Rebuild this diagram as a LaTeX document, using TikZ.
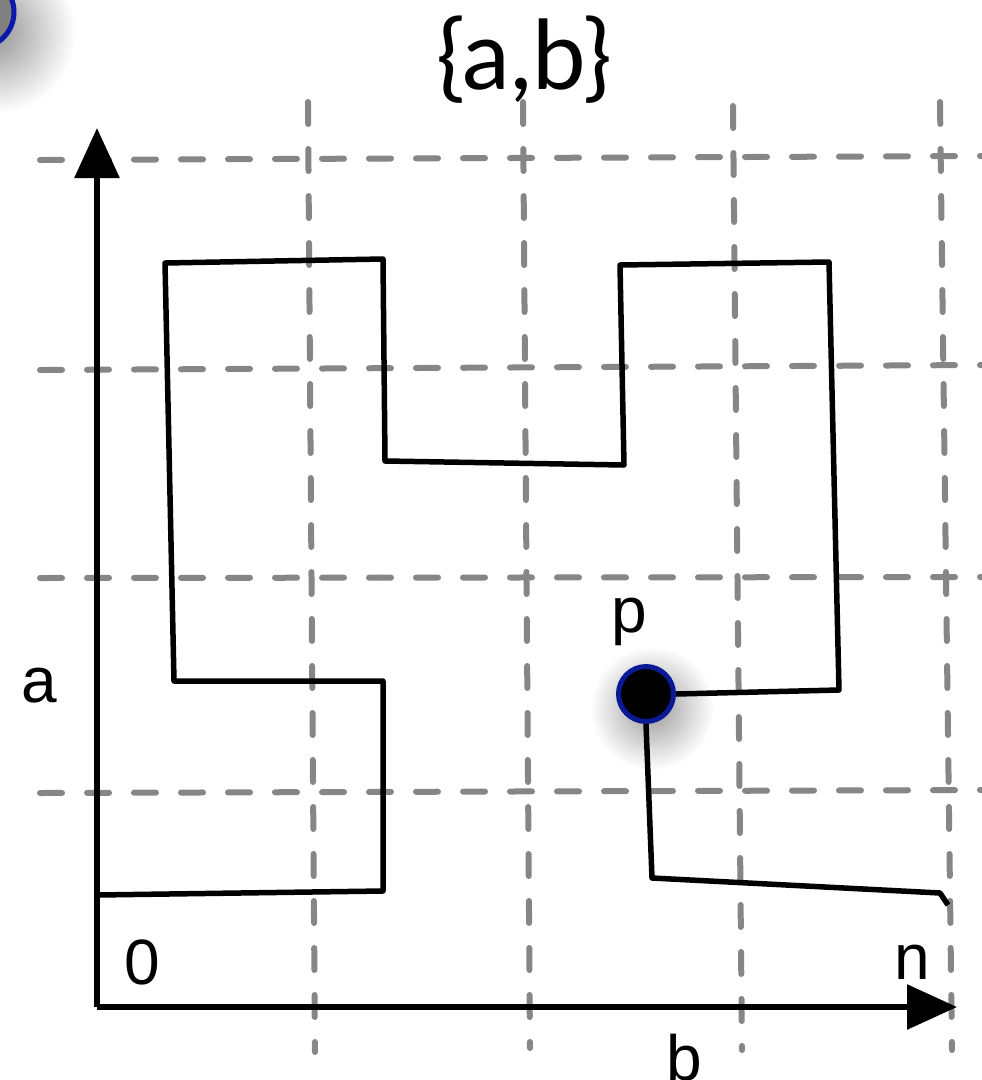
\documentclass[tikz,border=0pt]{standalone}
\usepackage{fontspec}
\setmainfont{Liberation Sans}
\newfontfamily\titlefont{Lato}
\usetikzlibrary{arrows.meta}
\tikzset{
  grid/.style={draw=gray!95, line width=6pt, dash pattern=on 22pt off 25pt, line cap=round},
  axis/.style={draw=black, line width=6pt, -{Triangle[length=50pt,width=44pt]}},
  walk/.style={draw=black, line width=5.5pt, line join=round},
  dot/.style={circle, draw={rgb,255:red,10;green,25;blue,150}, line width=5pt, fill=black, minimum size=55pt, inner sep=0pt},
  gdot/.style={circle, draw={rgb,255:red,10;green,25;blue,170}, line width=5pt, fill=gray, minimum size=72pt, inner sep=0pt},
  lbl/.style={font=\fontsize{64}{64}\selectfont, inner sep=0pt}
}
\begin{document}
\begin{tikzpicture}[x=1pt,y=-1pt]
\useasboundingbox (0,0) rectangle (982,1080);
\clip (0,0) rectangle (982,1080);
% shadows
\shade[inner color=gray!85, outer color=white] (-6,32) circle (82);
\shade[inner color=gray!80, outer color=white] (652,708) circle (62);
% grid
\draw[grid] (40,160) -- (982,156);
\draw[grid] (40,370) -- (982,365);
\draw[grid] (40,578) -- (982,577);
\draw[grid] (40,793) -- (982,790);
\draw[grid] (308,102) -- (315,1052);
\draw[grid] (523,102) -- (530,1048);
\draw[grid] (733,106) -- (742,1050);
\draw[grid] (940,102) -- (952,1050);
% axes
\coordinate (o) at (97,1007);
\coordinate (ya) at (97,128);
\coordinate (xa) at (957,1007);
\draw[axis] (o) -- (ya);
\draw[axis] (o) -- (xa);
% walk
\coordinate (w0) at (97,895);
\coordinate (w1) at (383,891);
\coordinate (w2) at (383,681);
\coordinate (w3) at (174,681);
\coordinate (w4) at (165,263);
\coordinate (w5) at (383,259);
\coordinate (w6) at (385,461);
\coordinate (w7) at (624,465);
\coordinate (w8) at (620,265);
\coordinate (w9) at (829,262);
\coordinate (w10) at (839,690);
\coordinate (w11) at (652,878);
\coordinate (w12) at (940,893);
\coordinate (w13) at (948,905);
\node[dot] (p) at (646,694) {};
\draw[walk] (w0) -- (w1) -- (w2) -- (w3) -- (w4) -- (w5) -- (w6) -- (w7) -- (w8) -- (w9) -- (w10) -- (p.east);
\draw[walk] (p.south) -- (w11) -- (w12) -- (w13);
\node[gdot] (g) at (-22,12) {};
% labels
\node[lbl] (lp) at (629,622) {p};
\node[lbl] (la) at (39,686) {a};
\node[lbl] (l0) at (142,962) {0};
\node[lbl] (ln) at (912,962) {n};
\node[lbl] (lb) at (684,1058) {b};
\node[font=\titlefont\fontsize{96}{96}\selectfont, inner sep=0pt] (title) at (524,60) {\{a,b\}};
\end{tikzpicture}
\end{document}
